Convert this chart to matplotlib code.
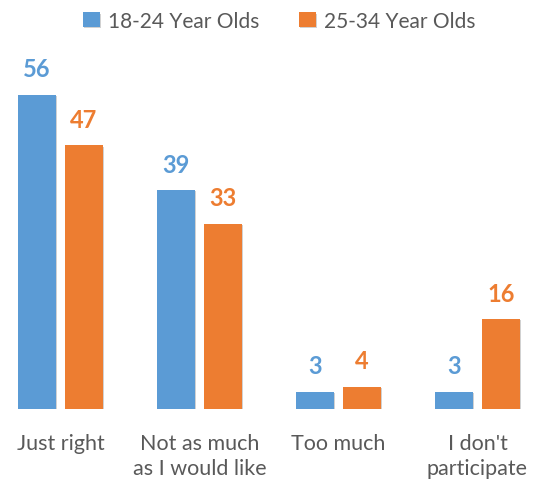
import matplotlib
matplotlib.use("Agg")

import matplotlib.pyplot as plt
import matplotlib.patheffects as pe
import numpy as np

categories = ["Just right", "Not as much\nas I would like", "Too much", "I don't\nparticipate"]
series_names = ["18-24 Year Olds", "25-34 Year Olds"]
young = [56, 39, 3, 3]
older = [47, 33, 4, 16]

colors = ["#5B9BD5", "#ED7D31"]
text_grey = "#595959"

plt.rcParams["font.family"] = ["Lato", "DejaVu Sans"]

fig = plt.figure(figsize=(5.42, 4.81), dpi=100)
ax = fig.add_axes([0, 71 / 481, 1, 370 / 481])

x = np.arange(len(categories))
width = 0.273
offset = 0.169
shadow = [pe.SimplePatchShadow(offset=(0.8, -0.8), alpha=0.18, shadow_rgbFace="#000000"), pe.Normal()]

for vals, off, col, name in [(young, -offset, colors[0], series_names[0]),
                             (older, offset, colors[1], series_names[1])]:
    bars = ax.bar(x + off, vals, width, color=col, label=name, path_effects=shadow, zorder=2)
    for b, v in zip(bars, vals):
        ax.annotate(str(v), (b.get_x() + b.get_width() / 2, v), xytext=(0, 13.5),
                    textcoords="offset points", ha="center", va="baseline",
                    color=col, fontsize=17, fontweight="bold")

ax.set_xlim(-60.5 / 139, (542 - 60.5) / 139)
ax.set_ylim(0, 370 / 5.607)
ax.set_xticks(x)
ax.set_xticklabels(categories, fontsize=15.5, color=text_grey, linespacing=1.35)
ax.tick_params(axis="x", length=0, pad=17)
ax.set_yticks([])
for s in ax.spines.values():
    s.set_visible(False)

fig.legend(loc="center", bbox_to_anchor=(0.515, 1 - 22 / 481), ncol=2, frameon=False,
           fontsize=15, labelcolor=text_grey, handlelength=0.8, handleheight=0.7,
           handletextpad=0.4, columnspacing=1.9, borderpad=0)

fig.savefig("out.png", dpi=100)
